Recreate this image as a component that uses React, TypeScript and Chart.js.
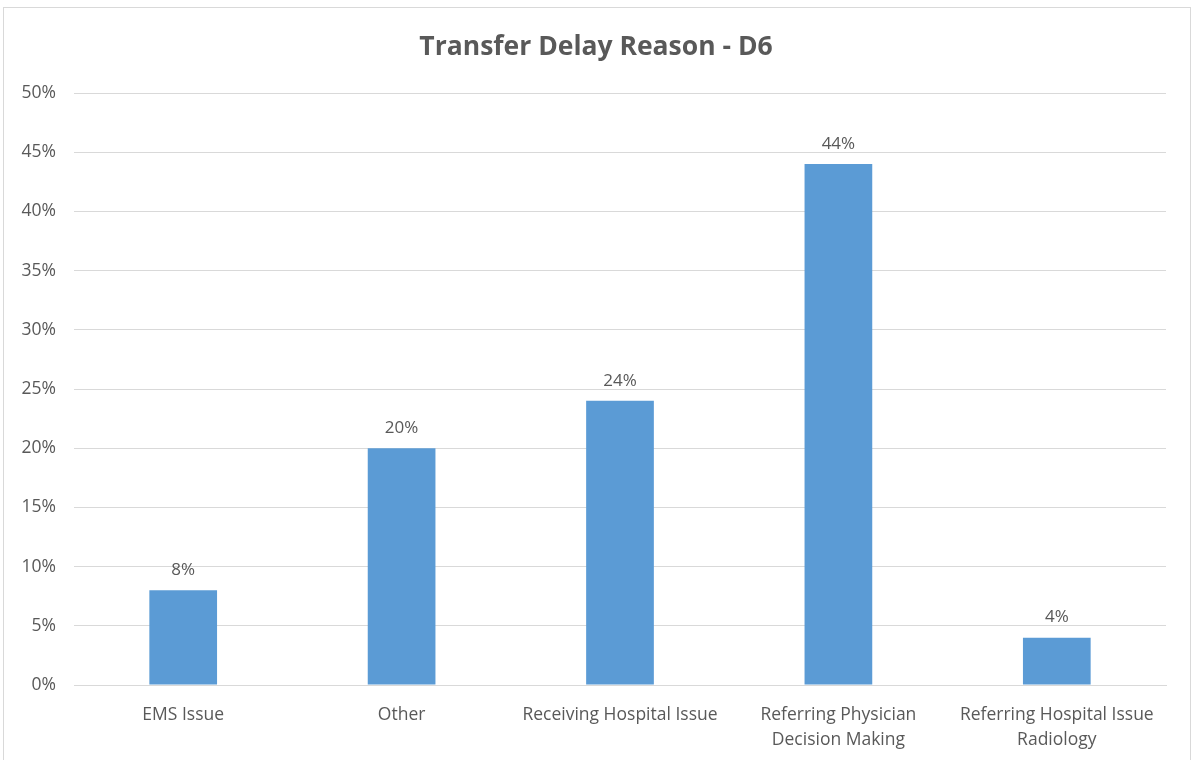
import React, { useEffect, useRef } from "react";
import { Chart, registerables } from "chart.js";

Chart.register(...registerables);

const categories: (string | string[])[] = [
  "EMS Issue",
  "Other",
  "Receiving Hospital Issue",
  ["Referring Physician", "Decision Making"],
  ["Referring Hospital Issue", "Radiology"],
];
const values: number[] = [8, 20, 24, 44, 4];
const yTicks: number[] = [0, 5, 10, 15, 20, 25, 30, 35, 40, 45, 50];
const chartTitle = "Transfer Delay Reason - D6";

const TEXT = "#595959";
const GRID = "#D9D9D9";
const BAR = "#5B9BD5";
const FONT = "'Open Sans', 'Noto Sans', sans-serif";

const labelPlugin = {
  id: "barValueLabels",
  afterDatasetsDraw(chart: any) {
    const ctx = chart.ctx;
    const meta = chart.getDatasetMeta(0);
    ctx.save();
    ctx.fillStyle = TEXT;
    ctx.font = `17px ${FONT}`;
    ctx.textAlign = "center";
    ctx.textBaseline = "middle";
    meta.data.forEach((el: any, i: number) => {
      ctx.fillText(values[i] + "%", el.x, el.y - 20);
    });
    ctx.restore();
  },
};

const titlePlugin = {
  id: "centeredTitle",
  afterDraw(chart: any) {
    const ctx = chart.ctx;
    ctx.save();
    ctx.fillStyle = TEXT;
    ctx.font = `bold 26.5px ${FONT}`;
    ctx.textAlign = "center";
    ctx.textBaseline = "middle";
    ctx.fillText(chartTitle, chart.width / 2, 47);
    ctx.restore();
  },
};

export default function App() {
  const ref = useRef<HTMLCanvasElement | null>(null);
  useEffect(() => {
    document.body.style.margin = "0";
    if (!ref.current) return;
    const chart = new Chart(ref.current, {
      type: "bar",
      data: {
        labels: categories,
        datasets: [
          {
            data: values,
            backgroundColor: BAR,
            borderWidth: 0,
            categoryPercentage: 1,
            barPercentage: 0.31,
          },
        ],
      },
      options: {
        animation: false,
        responsive: false,
        maintainAspectRatio: false,
        layout: { padding: { top: 93, right: 26, bottom: 0, left: 0 } },
        plugins: {
          legend: { display: false },
          tooltip: { enabled: false },
          title: { display: false },
        },
        scales: {
          x: {
            grid: { display: false, drawTicks: false },
            border: { display: true, color: GRID, width: 1 },
            ticks: {
              color: TEXT,
              font: { family: FONT, size: 17.5, lineHeight: "25px" as any },
              padding: 18,
              maxRotation: 0,
              autoSkip: false,
            },
            afterFit: (s: any) => {
              s.height = 75;
            },
          },
          y: {
            min: 0,
            max: 50,
            afterBuildTicks: (s: any) => {
              s.ticks = yTicks.map((v) => ({ value: v }));
            },
            grid: { color: GRID, drawTicks: false },
            border: { display: false },
            ticks: {
              color: TEXT,
              font: { family: FONT, size: 17.5 },
              padding: 18,
              callback: (v: any) => v + "%",
            },
            afterFit: (s: any) => {
              s.width = 74;
            },
          },
        },
      },
      plugins: [labelPlugin, titlePlugin],
    });
    return () => chart.destroy();
  }, []);
  return (
    <div style={{ position: "relative", width: 1192, height: 760, overflow: "hidden", background: "#fff" }}>
      <div
        style={{
          position: "absolute",
          left: 3,
          top: 7,
          width: 1186,
          height: 800,
          border: "1px solid #D9D9D9",
        }}
      />
      <canvas ref={ref} width={1192} height={760} style={{ position: "absolute", left: 0, top: 0 }} />
    </div>
  );
}
